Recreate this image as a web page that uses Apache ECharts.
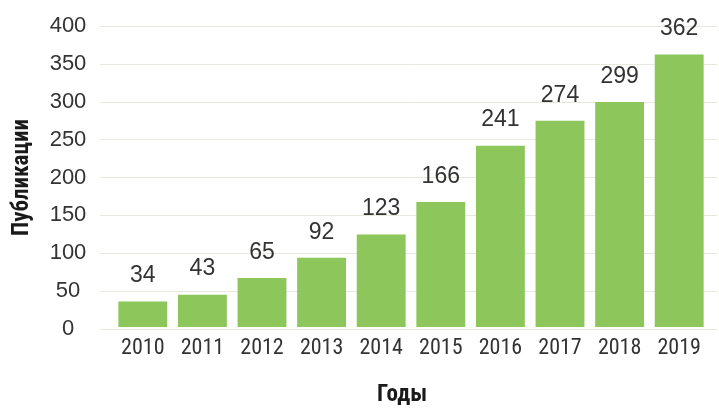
<!DOCTYPE html>
<html><head><meta charset="utf-8">
<script src="https://cdn.jsdelivr.net/npm/echarts@6/dist/echarts.min.js"></script>
<style>html,body{margin:0;padding:0;background:#fff}#c{width:719px;height:412px}</style>
</head><body><div id="c"></div>
<script>
const years = ['2010','2011','2012','2013','2014','2015','2016','2017','2018','2019'];
const publications = [34, 43, 65, 92, 123, 166, 241, 274, 299, 362];
const yTicks = {min: 0, max: 400, interval: 50};
const FN = "'Liberation Sans', Arial, sans-serif";
const FC = "'Roboto Condensed', 'Liberation Sans Narrow', sans-serif";
const chart = echarts.init(document.getElementById('c'));
chart.setOption({
  animation: false,
  grid: [
    {left: 100, right: 2, top: 26, bottom: 83},
    {left: 113, right: 10, top: 26, bottom: 83}
  ],
  xAxis: [
    {gridIndex: 0, type: 'category', data: years, show: false},
    {
      gridIndex: 1, type: 'category', data: years,
      name: 'Годы', nameLocation: 'middle', nameGap: 57,
      nameTextStyle: {fontFamily: FC, fontSize: 23, fontWeight: 'bold', color: '#1a1a1a', padding: [0, 18, 0, 0]},
      axisLine: {show: false}, axisTick: {show: false},
      axisLabel: {fontFamily: FC, fontSize: 22, color: '#333', margin: 10}
    }
  ],
  yAxis: [
    {
      gridIndex: 0, type: 'value', min: yTicks.min, max: yTicks.max, interval: yTicks.interval,
      name: 'Публикации', nameLocation: 'middle', nameGap: 66, nameRotate: 90, nameMoveOverlap: false,
      nameTextStyle: {fontFamily: FC, fontSize: 23, fontWeight: 'bold', color: '#1a1a1a', padding: [10, 0, 0, 0]},
      axisLabel: {fontFamily: FN, fontSize: 22, color: '#333', margin: 32, align: 'center'},
      axisLine: {show: false}, axisTick: {show: false},
      splitLine: {lineStyle: {color: '#e8e8e0', width: 1}}
    },
    {
      gridIndex: 1, type: 'value', min: yTicks.min, max: yTicks.max, interval: yTicks.interval,
      show: false, splitLine: {show: false}
    }
  ],
  series: [{
    type: 'bar', xAxisIndex: 1, yAxisIndex: 1, data: publications, barWidth: '82%',
    itemStyle: {color: '#8dc65b'},
    label: {show: true, position: 'top', distance: 14, fontFamily: FN, fontSize: 23, color: '#333'}
  }]
});
</script></body></html>
